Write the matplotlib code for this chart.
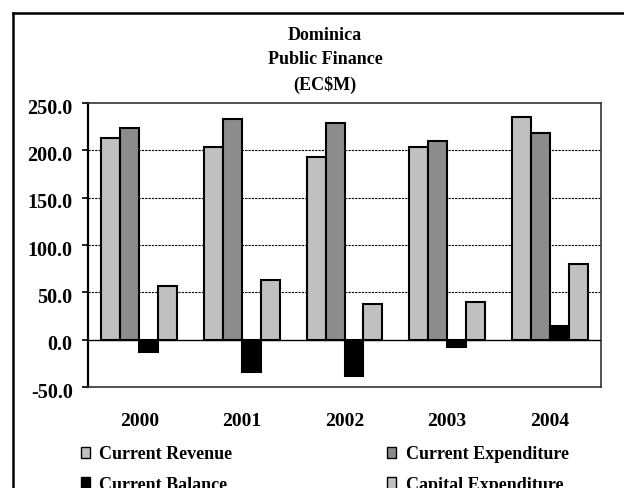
import matplotlib
matplotlib.use("Agg")
import matplotlib.pyplot as plt
import matplotlib.transforms as mtransforms
import numpy as np
from matplotlib.patches import Patch
from matplotlib.lines import Line2D
from matplotlib.ticker import FormatStrFormatter

years = ["2000", "2001", "2002", "2003", "2004"]
series_names = ["Current Revenue", "Current Expenditure", "Current Balance", "Capital Expenditure"]
current_revenue = [213.3, 203.0, 192.5, 203.0, 234.8]
current_expenditure = [223.8, 232.7, 228.5, 209.4, 217.9]
current_balance = [-13.4, -34.6, -38.8, -7.4, 14.8]
capital_expenditure = [56.8, 63.2, 37.8, 40.3, 80.2]
y_ticks = [-50, 0, 50, 100, 150, 200, 250]

series = [current_revenue, current_expenditure, current_balance, capital_expenditure]
colors = ["#c0c0c0", "#8c8c8c", "#000000", "#c0c0c0"]

plt.rcParams["font.family"] = ["Liberation Serif", "DejaVu Serif"]
plt.rcParams["font.weight"] = "bold"

W, H = 624, 488
fig = plt.figure(figsize=(W / 100, H / 100), dpi=100)

def fx(px):
    return px / W

def fy(py):
    return 1 - py / H

ax = fig.add_axes([fx(88), fy(387), fx(601) - fx(88), fy(103) - fy(387)])

x = np.arange(len(years))
bw = 0.185
for i, (vals, c) in enumerate(zip(series, colors)):
    ax.bar(x + (i - 1.5) * bw, vals, width=bw, color=c, edgecolor="black",
           linewidth=1.5, zorder=3)

ax.set_xlim(-0.5, len(years) - 0.5)
ax.set_ylim(-50, 250)
ax.set_yticks(y_ticks)
ax.yaxis.set_major_formatter(FormatStrFormatter("%.1f"))
for v in [50, 100, 150, 200]:
    ax.axhline(v, color="black", linewidth=0.8, linestyle=(0, (2, 1)), zorder=1)
ax.axhline(0, color="black", linewidth=1.0, zorder=4)

ax.set_xticks(x)
ax.set_xticklabels(years)
ax.tick_params(axis="x", length=0, pad=19, labelsize=14)
ax.tick_params(axis="y", direction="out", length=4, width=1.2, pad=7, labelsize=14.5)
shift = mtransforms.ScaledTranslation(0, -3 / 100, fig.dpi_scale_trans)
for lab in ax.get_yticklabels():
    lab.set_transform(lab.get_transform() + shift)
for lab in ax.get_xticklabels() + ax.get_yticklabels():
    lab.set_fontweight("bold")

for side in ["top", "right", "bottom"]:
    ax.spines[side].set_color("#333333")
    ax.spines[side].set_linewidth(1.2)
ax.spines["left"].set_linewidth(1.6)
ax.spines["left"].set_color("black")

# outer chart frame
fig.add_artist(Line2D([fx(13), fx(13)], [fy(13), 0], color="black", linewidth=1.8,
                      transform=fig.transFigure))
fig.add_artist(Line2D([fx(13), 1], [fy(13), fy(13)], color="black", linewidth=1.8,
                      transform=fig.transFigure))

for txt, py in [("Dominica", 35), ("Public Finance", 60), ("(EC$M)", 85)]:
    fig.text(fx(325), fy(py), txt, ha="center", va="center", fontsize=13,
             fontweight="bold")

handles = [Patch(facecolor=c, edgecolor="black", linewidth=1.0) for c in colors]
order = [0, 2, 1, 3]
fig.legend([handles[i] for i in order], [series_names[i] for i in order],
           ncol=2, loc="upper left", bbox_to_anchor=(fx(81), fy(446)),
           frameon=False, handlelength=0.5, handleheight=0.6,
           handletextpad=0.5, columnspacing=8.6, labelspacing=0.75, borderpad=0,
           borderaxespad=0, prop={"weight": "bold", "size": 13})

fig.savefig("out.png", dpi=100)
